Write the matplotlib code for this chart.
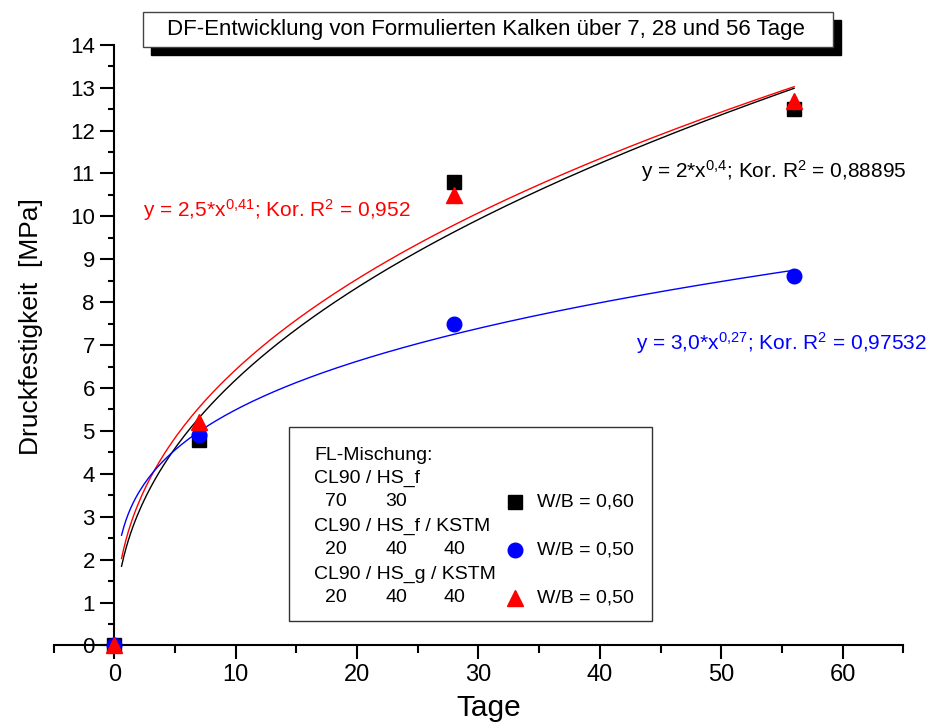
import numpy as np
import matplotlib.pyplot as plt
from matplotlib.patches import Rectangle
from matplotlib.lines import Line2D
from matplotlib.ticker import MultipleLocator

plt.rcParams['font.family'] = ['Liberation Sans', 'DejaVu Sans']
plt.rcParams['mathtext.fontset'] = 'custom'
plt.rcParams['mathtext.rm'] = 'Liberation Sans'

# Messwerte (Tage, Druckfestigkeit in MPa)
tage = [0, 7, 28, 56]
df_wb060 = [0, 4.8, 10.8, 12.5]          # CL90/HS_f 70/30, W/B = 0,60
df_wb050_f = [0, 4.9, 7.5, 8.6]          # CL90/HS_f/KSTM 20/40/40
df_wb050_g = [0, 5.2, 10.5, 12.7]        # CL90/HS_g/KSTM 20/40/40

# Potenzfunktionen y = a * x^b (ungerundete Koeffizienten)
fit_black = (2.3, 0.43)
fit_blue = (2.95, 0.27)
fit_red = (2.5, 0.41)
x_fit = np.linspace(0.6, 56, 300)

fig = plt.figure(figsize=(9.4, 7.22), dpi=100)
ax = fig.add_axes([0.057, 0.106, 0.904, 0.832])

ax.plot(x_fit, fit_black[0] * x_fit ** fit_black[1], color='black', lw=1)
ax.plot(x_fit, fit_red[0] * x_fit ** fit_red[1], color='red', lw=1)
ax.plot(x_fit, fit_blue[0] * x_fit ** fit_blue[1], color='blue', lw=1)

ax.plot(tage, df_wb060, 's', color='black', ms=9.5, clip_on=False, zorder=5)
ax.plot(tage, df_wb050_f, 'o', color='blue', ms=10.5, clip_on=False, zorder=5)
ax.plot(tage, df_wb050_g, '^', color='red', ms=12, clip_on=False, zorder=6)

ax.set_xlim(-5, 65)
ax.set_ylim(0, 14)
ax.spines['top'].set_visible(False)
ax.spines['right'].set_visible(False)
ax.spines['left'].set_position(('data', 0))
ax.spines['left'].set_linewidth(1.5)
ax.spines['bottom'].set_linewidth(1.5)

ax.xaxis.set_major_locator(MultipleLocator(10))
ax.xaxis.set_minor_locator(MultipleLocator(5))
ax.yaxis.set_major_locator(MultipleLocator(1))
ax.yaxis.set_minor_locator(MultipleLocator(0.5))
ax.tick_params(axis='x', which='major', direction='out', length=10, width=1.5,
               labelsize=17, pad=3)
ax.tick_params(axis='x', which='minor', direction='out', length=6, width=1.5)
ax.tick_params(axis='y', which='major', direction='out', length=10, width=1.5,
               labelsize=16, pad=4)
ax.tick_params(axis='y', which='minor', direction='out', length=4, width=1.5)
ax.set_xticks([0, 10, 20, 30, 40, 50, 60])

fig.text(489 / 940, 1 - 716 / 722, 'Tage', fontsize=21.5,
         ha='center', va='baseline')
fig.text(0.033, 1 - 327 / 722, 'Druckfestigkeit  [MPa]', rotation=90,
         fontsize=19, ha='center', va='center')

# Gleichungen der Anpassungen
ax.text(43.4, 11.05,
        'y = 2*$\\mathregular{x^{0{,}4}}$; Kor. $\\mathregular{R^2}$ = 0,88895',
        color='black', fontsize=15, va='center')
ax.text(2.4, 10.15,
        'y = 2,5*$\\mathregular{x^{0{,}41}}$; Kor. $\\mathregular{R^2}$ = 0,952',
        color='red', fontsize=15, va='center')
ax.text(43.0, 7.05,
        'y = 3,0*$\\mathregular{x^{0{,}27}}$; Kor. $\\mathregular{R^2}$ = 0,97532',
        color='blue', fontsize=15, va='center')

# Titel mit Schattenrahmen
fig.patches.append(Rectangle((151 / 940, 1 - 55 / 722), 690 / 940, 35 / 722,
                             transform=fig.transFigure, facecolor='black',
                             edgecolor='black', zorder=1))
fig.patches.append(Rectangle((143 / 940, 1 - 47 / 722), 690 / 940, 35 / 722,
                             transform=fig.transFigure, facecolor='white',
                             edgecolor='#444444', lw=1, zorder=2))
fig.text(486 / 940, 1 - 29.5 / 722,
         'DF-Entwicklung von Formulierten Kalken über 7, 28 und 56 Tage',
         fontsize=16, ha='center', va='center', zorder=3)

# Legende als Kasten
fig.patches.append(Rectangle((289 / 940, 1 - 621 / 722), 363 / 940, 194 / 722,
                             transform=fig.transFigure, facecolor='white',
                             edgecolor='#333333', lw=1, zorder=1))
zeilen = [
    (455, [(314, 'FL-Mischung:')]),
    (478, [(314, 'CL90 / HS_f')]),
    (502, [(325, '70'), (385, '30')]),
    (526, [(314, 'CL90 / HS_f / KSTM')]),
    (550, [(325, '20'), (385, '40'), (444, '40')]),
    (574, [(314, 'CL90 / HS_g / KSTM')]),
    (598, [(325, '20'), (385, '40'), (444, '40')]),
]
for y, teile in zeilen:
    for x, s in teile:
        fig.text(x / 940, 1 - y / 722, s, fontsize=14, va='center', ha='left')

legende = [(502, 's', 'black', 9.5, 'W/B = 0,60'),
           (550, 'o', 'blue', 10.5, 'W/B = 0,50'),
           (598, '^', 'red', 12, 'W/B = 0,50')]
for y, m, c, ms, s in legende:
    fig.add_artist(Line2D([515 / 940], [1 - y / 722], marker=m, color=c, ms=ms,
                          ls='none', transform=fig.transFigure))
    fig.text(537 / 940, 1 - y / 722, s, fontsize=14, va='center', ha='left')

fig.savefig('out.png', dpi=100)
